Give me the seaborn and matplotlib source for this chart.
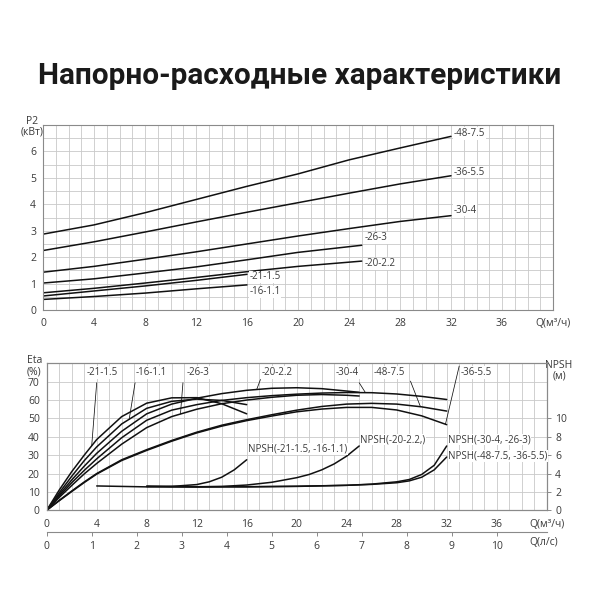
import numpy as np
import seaborn as sns
import matplotlib.pyplot as plt

# --- данные: мощность P2 (кВт) от подачи Q (м3/ч) ---
q_p2_32 = [0, 4, 8, 12, 16, 20, 24, 28, 32]
p2_48_75 = [2.87, 3.22, 3.68, 4.18, 4.68, 5.15, 5.68, 6.13, 6.57]
p2_36_55 = [2.25, 2.58, 2.95, 3.33, 3.70, 4.06, 4.42, 4.77, 5.08]
p2_30_4 = [1.43, 1.65, 1.92, 2.20, 2.50, 2.80, 3.08, 3.35, 3.57]
q_p2_25 = [0, 4, 8, 12, 16, 20, 25]
p2_26_3 = [1.02, 1.18, 1.40, 1.63, 1.90, 2.18, 2.45]
p2_20_22 = [0.65, 0.82, 1.02, 1.23, 1.45, 1.65, 1.85]
q_p2_16 = [0, 4, 8, 12, 16]
p2_21_15 = [0.53, 0.72, 0.91, 1.12, 1.35]
p2_16_11 = [0.40, 0.51, 0.64, 0.80, 0.95]

# --- КПД (%) ---
q_eta_16 = [0, 1, 2, 3, 4, 6, 8, 10, 12, 14, 16]
eta_21_15 = [0, 11, 21, 30, 38.5, 51, 58.3, 61.2, 61.3, 58, 52.5]
eta_16_11 = [0, 9.5, 18.5, 27, 34.5, 47, 55.5, 59.3, 60.5, 59.8, 57.5]
q_eta_25 = [0, 1, 2, 3, 4, 6, 8, 10, 12, 14, 16, 18, 20, 22, 24, 25]
eta_20_22 = [0, 8.5, 16.5, 24, 31, 43, 52.5, 57.8, 61, 63.5, 65.3, 66.4, 66.7, 66.2, 64.9, 64.2]
eta_26_3 = [0, 7, 13.5, 19.8, 25.5, 36, 45, 51, 55, 58, 60, 61.5, 62.6, 63, 62.6, 62.2]
q_eta_32 = [0, 1, 2, 3, 4, 6, 8, 10, 12, 14, 16, 18, 20, 22, 24, 26, 28, 30, 32]
eta_30_4 = [0, 7.7, 15, 21.7, 28, 39.5, 49, 54.5, 57.5, 59.8, 61.3, 62.4, 63.2, 63.8, 64.1, 64, 63.3, 62, 60.3]
eta_48_75 = [0, 5.4, 10.5, 15.4, 20, 27.5, 33, 38, 42.5, 46.3, 49.3, 52, 54.5, 56.5, 57.8, 58.2, 57.8, 56.3, 54]
eta_36_55 = [0, 5.2, 10.2, 15.1, 19.7, 27.1, 32.6, 37.6, 42.1, 45.8, 48.8, 51.3, 53.6, 55.1, 56, 56, 54.6, 51.4, 46.6]

# --- NPSH (м) ---
q_npsh_16 = [4, 6, 8, 10, 12, 13, 14, 15, 16]
npsh_21_16 = [2.65, 2.6, 2.55, 2.6, 2.8, 3.1, 3.6, 4.4, 5.5]
q_npsh_25 = [8, 10, 12, 14, 16, 18, 20, 21, 22, 23, 24, 25]
npsh_20 = [2.6, 2.55, 2.55, 2.6, 2.75, 3.05, 3.55, 3.9, 4.4, 5.05, 5.9, 7.0]
q_npsh_32 = [8, 12, 16, 20, 24, 26, 28, 29, 30, 31, 32]
npsh_30_26 = [2.6, 2.55, 2.55, 2.6, 2.72, 2.85, 3.1, 3.35, 3.9, 4.9, 7.0]
npsh_48_36 = [2.62, 2.57, 2.57, 2.62, 2.72, 2.82, 3.0, 3.2, 3.6, 4.4, 5.8]

q_ticks = list(range(0, 41, 4))
ls_ticks = list(range(0, 11))

TXT = '#3a3a3a'
GRID = '#c9c9c9'
SPINE = '#8a8a8a'
LINE = '#111111'
FS = 7.5   # подписи осей
FA = 7     # подписи кривых

sns.set_theme(style='white')
plt.rcParams['font.family'] = ['Open Sans', 'DejaVu Sans']

fig = plt.figure(figsize=(6, 6), dpi=100)
title = fig.text(0.5, 1 - 84 / 600, 'Напорно-расходные характеристики',
                 ha='center', va='baseline', fontsize=23, fontweight='bold', color='#1a1a1a',
                 family=['Liberation Sans Narrow', 'Roboto', 'DejaVu Sans'])
# подгоняем ширину заголовка (~524 px как в образце)
fig.canvas.draw()
w = title.get_window_extent().width
title.set_fontsize(23 * 524 / w)


def style_axes(ax):
    for s in ax.spines.values():
        s.set_color(SPINE)
        s.set_linewidth(0.8)
    ax.grid(which='both', color=GRID, lw=0.6)
    ax.set_axisbelow(True)
    ax.tick_params(which='minor', length=0)
    ax.tick_params(axis='x', which='major', length=3, width=0.7, color=SPINE,
                   direction='out', labelsize=FS, labelcolor=TXT, pad=3)
    ax.tick_params(axis='y', which='major', length=0, labelsize=FS, labelcolor=TXT, pad=5)


def x_labels():
    labs = []
    for v in range(0, 41, 2):
        if v == 40:
            labs.append('Q(м³/ч)')
        elif v in q_ticks:
            labs.append(str(v))
        else:
            labs.append('')
    return labs


# ---------------- верхний график: P2 ----------------
ax1 = fig.add_axes([43 / 600, 1 - 310 / 600, 510 / 600, 185 / 600])
p2_series = [
    ('-48-7.5', q_p2_32, p2_48_75, 0.11),
    ('-36-5.5', q_p2_32, p2_36_55, 0.14),
    ('-30-4', q_p2_32, p2_30_4, 0.20),
    ('-26-3', q_p2_25, p2_26_3, 0.29),
    ('-20-2.2', q_p2_25, p2_20_22, -0.10),
    ('-21-1.5', q_p2_16, p2_21_15, -0.09),
    ('-16-1.1', q_p2_16, p2_16_11, -0.26),
]
for name, q, p, dy in p2_series:
    sns.lineplot(x=q, y=p, ax=ax1, color=LINE, lw=1.1)
    ax1.text(q[-1] + 0.2, p[-1] + dy, name, ha='left', va='center', fontsize=FA, color=TXT,
             bbox=dict(fc='white', ec='none', pad=0.4))

ax1.set_xlim(0, 40)
ax1.set_ylim(0, 7)
ax1.set_xticks(range(0, 41, 2))
ax1.set_xticklabels(x_labels())
ax1.set_xticks(np.arange(0, 41, 1), minor=True)
ax1.set_yticks(range(0, 8))
ax1.set_yticklabels([str(v) for v in range(0, 7)] + [''])
ax1.set_yticks(np.arange(0, 7.01, 0.5), minor=True)
style_axes(ax1)
ax1.text(-0.022, 0.99, 'P2\n(кВт)', transform=ax1.transAxes, ha='center', va='center',
         fontsize=FS, color=TXT, linespacing=1.0)

# ---------------- нижний график: КПД и NPSH ----------------
ax2 = fig.add_axes([46.7 / 600, 1 - 510.3 / 600, 500 / 600, 147 / 600])
ax2r = ax2.twinx()

eta_series = [
    ('-21-1.5', q_eta_16, eta_21_15, 4.46, 4.0, 3.6, 69.4),
    ('-16-1.1', q_eta_16, eta_16_11, 8.4, 7.07, 6.6, 69.4),
    ('-26-3', q_eta_25, eta_26_3, 12.1, 10.9, 10.7, 69.4),
    ('-20-2.2', q_eta_25, eta_20_22, 18.46, 17.1, 16.8, 71.2),
    ('-30-4', q_eta_32, eta_30_4, 24.06, 25.0, 25.5, 69.4),
    ('-48-7.5', q_eta_32, eta_48_75, 27.4, 29.1, 29.9, 70.3),
    ('-36-5.5', q_eta_32, eta_36_55, 34.4, 33.0, 31.9, 78.5),
]
for name, q, e, lab_x, p_x0, p_x1, p_y0 in eta_series:
    sns.lineplot(x=q, y=e, ax=ax2, color=LINE, lw=1.1)
    ax2.plot([p_x0, p_x1], [p_y0, np.interp(p_x1, q, e)], color=LINE, lw=0.55)
    ax2.text(lab_x, 75, name, ha='center', va='center', fontsize=FA, color=TXT,
             bbox=dict(fc='white', ec='none', pad=0.4))

npsh_series = [
    ('NPSH(-21-1.5, -16-1.1)', q_npsh_16, npsh_21_16, 1.2),
    ('NPSH(-20-2.2,)', q_npsh_25, npsh_20, 0.7),
    ('NPSH(-30-4, -26-3)', q_npsh_32, npsh_30_26, 0.7),
    ('NPSH(-48-7.5, -36-5.5)', q_npsh_32, npsh_48_36, 0.1),
]
for name, q, n, dy in npsh_series:
    sns.lineplot(x=q, y=n, ax=ax2r, color=LINE, lw=1.1)
    ax2r.text(q[-1] + 0.1, n[-1] + dy, name, ha='left', va='center', fontsize=FA, color=TXT,
              bbox=dict(fc='white', ec='none', pad=0.3))

ax2.set_xlim(0, 40)
ax2.set_ylim(0, 80)
ax2.set_xticks(range(0, 41, 2))
ax2.set_xticklabels(x_labels())
ax2.set_xticks(np.arange(0, 41, 1), minor=True)
ax2.set_yticks(range(0, 81, 10))
ax2.set_yticklabels([str(v) for v in range(0, 71, 10)] + [''])
style_axes(ax2)

ax2r.set_ylim(0, 16)
ax2r.set_yticks(range(0, 11, 2))
ax2r.grid(False)
for s in ax2r.spines.values():
    s.set_color(SPINE)
    s.set_linewidth(0.8)
ax2r.tick_params(axis='y', length=3, width=0.7, color=SPINE, direction='out',
                 labelsize=FS, labelcolor=TXT, pad=3)

ax2.text(-0.04, 0.98, 'Eta\n(%)', transform=ax2.transAxes, ha='left', va='center',
         fontsize=FS, color=TXT, linespacing=1.0)
ax2.text(1.0246, 0.951, 'NPSH\n(м)', transform=ax2.transAxes, ha='center', va='center',
         fontsize=FS, color=TXT, linespacing=1.0)

# вторая шкала подачи, л/с
secax = ax2.secondary_xaxis(-21.4 / 147, functions=(lambda q: q / 3.6, lambda l: l * 3.6))
secax.set_xticks(ls_ticks)
secax.spines['bottom'].set_color(SPINE)
secax.spines['bottom'].set_linewidth(0.8)
secax.tick_params(axis='x', length=3, width=0.7, color=SPINE, direction='out',
                  labelsize=FS, labelcolor=TXT, pad=4)
ax2.text(0.994, -0.2157, 'Q(л/с)', transform=ax2.transAxes, ha='center', va='center',
         fontsize=FS, color=TXT)

fig.savefig('out.png', dpi=100)
